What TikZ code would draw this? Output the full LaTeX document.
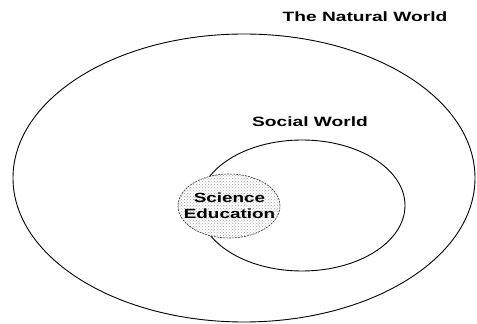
\documentclass[tikz,border=0pt]{standalone}
\usepackage{fontspec}
\setmainfont{Liberation Sans}
\newfontfamily\labfont[FakeStretch=1.42]{Liberation Sans Bold}
\usetikzlibrary{shapes.geometric,patterns}
\begin{document}
\begin{tikzpicture}[x=1pt,y=1pt,
  world/.style={draw=black, line width=0.9pt, ellipse, inner sep=0pt},
  lab/.style={font=\labfont\fontsize{13.5}{15}\selectfont, text=black, inner sep=0pt, align=center}]
\fill[white] (0,0) rectangle (477,324);
\useasboundingbox (0,0) rectangle (477,324);
\node[world, minimum width=462pt, minimum height=288pt] (nat) at (244,146) {};
\node[world, minimum width=206pt, minimum height=131pt] (soc) at (302,118.5) {};
\node[ellipse, inner sep=0pt, minimum width=102pt, minimum height=64pt, fill=white] (sciback) at (229,118) {};
\node[ellipse, inner sep=0pt, minimum width=102pt, minimum height=64pt, pattern=crosshatch dots, pattern color=gray!70, draw=black!80, line width=0.6pt, dash pattern=on 2pt off 1pt] (sci) at (229,118) {};
\node[lab, font=\labfont\fontsize{13.3}{16}\selectfont] (scitext) at (229.5,118) {Science\\Education};
\node[lab] (natlab) at (365,307) {The Natural World};
\node[lab] (soclab) at (310,202) {Social World};
\end{tikzpicture}
\end{document}
